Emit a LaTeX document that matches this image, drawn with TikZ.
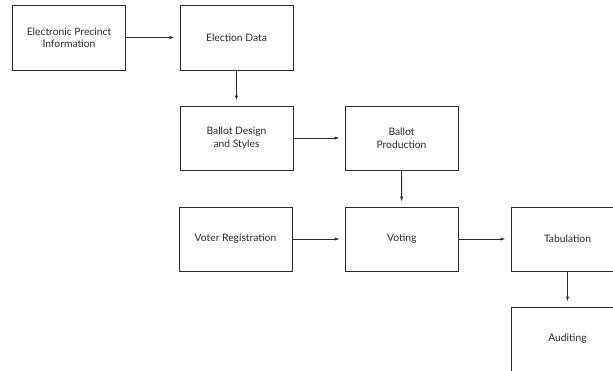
\documentclass[tikz,border=0pt]{standalone}
\usepackage{fontspec}
\setmainfont{Lato}
\usetikzlibrary{arrows.meta}
\definecolor{ink}{HTML}{2A2A2A}
\tikzset{
  procbox/.style={draw=ink, line width=0.9pt, minimum width=113pt, minimum height=64pt,
    inner sep=0pt, align=center, text=ink, font=\fontsize{10.3pt}{12.5pt}\selectfont},
  flow/.style={draw=ink, line width=0.8pt, -{Latex[length=5pt,width=3.2pt]}, shorten >=5pt}
}
\begin{document}
\begin{tikzpicture}[x=1pt,y=-1pt]
\useasboundingbox (0,0) rectangle (613,370);
\clip (0,0) rectangle (613,370);
\fill[white] (0,0) rectangle (613,370);
\node[procbox, minimum height=65pt] (epi) at (69,37.5) {Electronic Precinct\\Information};
\node[procbox, minimum height=65pt] (ed) at (236.5,37.5) {Election Data};
\node[procbox] (bd) at (236.5,138) {Ballot Design\\and Styles};
\node[procbox] (bp) at (401.5,138) {Ballot\\Production};
\node[procbox] (vr) at (235.5,239) {Voter Registration};
\node[procbox] (vo) at (401.75,239) {Voting};
\node[procbox] (ta) at (567.5,239) {Tabulation};
\node[procbox] (au) at (567.5,339) {Auditing};
\draw[flow] (epi) -- (ed);
\draw[flow] (ed) -- (bd);
\draw[flow] (bd) -- (bp);
\draw[flow] (bp) -- (vo);
\draw[flow] (vr) -- (vo);
\draw[flow] (vo) -- (ta);
\draw[flow] (ta) -- (au);
\end{tikzpicture}
\end{document}
